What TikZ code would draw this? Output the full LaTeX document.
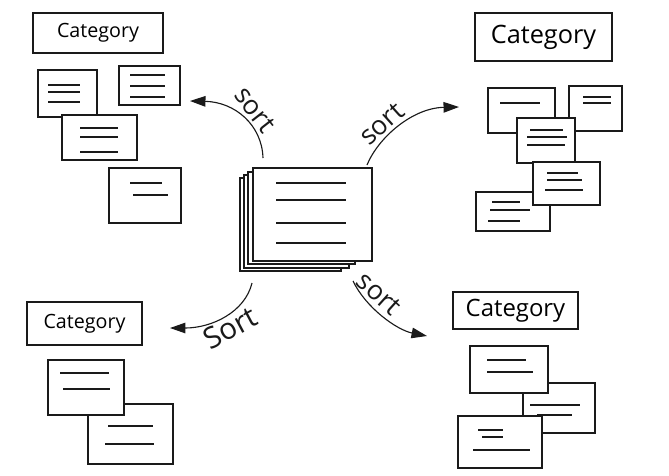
\documentclass[tikz,border=0pt]{standalone}
\usepackage{fontspec}
\setmainfont{Open Sans}
\usetikzlibrary{arrows.meta}
\definecolor{ink}{HTML}{1A1A1A}

\begin{document}
\begin{tikzpicture}[x=.025cm,y=-.025cm,
  card/.style={draw=ink,fill=white,line width=.9pt},
  rule/.style={draw=ink,line width=.9pt},
  cat/.style={draw=ink,line width=1.1pt,inner sep=0pt},
  flow/.style={draw=ink,line width=.8pt,-{Triangle[length=11pt,width=7.5pt]}},
  verb/.style={ink,inner sep=0pt,font=\fontsize{19}{19}\selectfont}]
  \fill[white] (0,0) rectangle (669,475);
  % category headers
  \node[cat,minimum width=3.25cm,minimum height=1cm,font=\fontsize{14}{14}\selectfont] (catnw) at (98,33){Category};
  \node[cat,minimum width=3.425cm,minimum height=1.2cm,font=\fontsize{18}{18}\selectfont] (catne) at (543.5,37){Category};
  \node[cat,minimum width=2.875cm,minimum height=1.075cm,font=\fontsize{14}{14}\selectfont] (catsw) at (84.5,323.5){Category};
  \node[cat,minimum width=3.125cm,minimum height=.925cm,font=\fontsize{17}{17}\selectfont] (catse) at (515.5,310.5){Category};
  % sorted cards, back to front
  \foreach \a/\b/\c/\d in {38/70/97/117, 119/66/180/105, 62/115/137/160, 109/168/181/223,
      488/88/555/133, 569/86/622/131, 517/118/575/163, 476/192/550/231, 533/162/600/205,
      88/404/173/464, 48/360/124/415,
      523/383/595/433, 470/346/548/393, 458/416/542/468}
    \filldraw[card] (\a,\b) rectangle (\c,\d);
  % text lines on the cards
  \foreach \a/\b/\c in {48/85/80, 48/92/80, 48/102/80, 130/75/165, 130/86/165, 130/97/165,
      80/128/118, 80/137/118, 80/152/118, 130/183/162, 133/195/168,
      500/103/540, 583/97/611, 583/103/611, 530/130/563, 527/137/567, 527/145/565,
      547/173/578, 547/180/582, 545/190/583, 492/202/520, 490/210/530, 488/221/520,
      60/373/109, 63/389/110, 108/426/153, 105/444/154,
      487/360/526, 487/372/533, 530/405/580, 537/415/572, 478/430/503, 482/437/503, 473/450/530}
    \draw[rule] (\a,\b) -- (\c,\b);
  % unsorted pile
  \filldraw[card] (240,178) rectangle (341,271);
  \filldraw[card] (244,175) rectangle (349,268);
  \filldraw[card] (248,172) rectangle (355,264);
  \node[card,minimum width=2.975cm,minimum height=2.325cm,inner sep=0pt] (pile) at (312.5,214.5){};
  \foreach \b in {183,200,223,243}
    \draw[rule] (276,\b) -- (346,\b);
  % sort arrows
  \coordinate (nwfrom) at (263,158);
  \coordinate (nwto) at (190,101);
  \coordinate (nefrom) at (367,165);
  \coordinate (neto) at (459,107);
  \coordinate (swfrom) at (252,283);
  \coordinate (swto) at (170,328);
  \coordinate (sefrom) at (353,281);
  \coordinate (seto) at (427,336);
  \draw[flow] (nwfrom) .. controls (262,125) and (235,102) .. (nwto);
  \draw[flow] (nefrom) .. controls (378,138) and (412,108) .. (neto);
  \draw[flow] (swfrom) .. controls (245,312) and (212,328) .. (swto);
  \draw[flow] (sefrom) .. controls (366,308) and (397,330) .. (seto);
  \node[verb,rotate=-52] (nwverb) at (255,110){sort};
  \node[verb,rotate=42] (neverb) at (382,124){sort};
  \node[verb,rotate=28,font=\fontsize{21}{21}\selectfont] (swverb) at (230,328){Sort};
  \node[verb,rotate=-42] (severb) at (379,294){sort};
\end{tikzpicture}
\end{document}
